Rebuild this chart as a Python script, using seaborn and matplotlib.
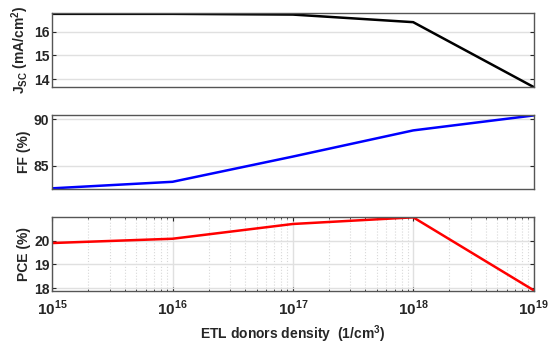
import pandas as pd
import matplotlib.pyplot as plt
import matplotlib.ticker as mticker
import seaborn as sns
import numpy as np

# data
donors = [1e15, 1e16, 1e17, 1e18, 1e19]
jsc = [16.75, 16.75, 16.72, 16.4, 13.67]
ff = [82.6, 83.3, 86.0, 88.8, 90.4]
pce = [19.9, 20.08, 20.7, 20.98, 17.92]

df = pd.DataFrame({'donors': donors, 'jsc': jsc, 'ff': ff, 'pce': pce})

sns.set_style('white')
plt.rcParams['font.family'] = ['Liberation Sans', 'DejaVu Sans']
plt.rcParams['font.weight'] = 'bold'
plt.rcParams['axes.labelweight'] = 'bold'

fig, axes = plt.subplots(3, 1, figsize=(5.5, 3.46), dpi=100, sharex=True)
fig.subplots_adjust(left=0.095, right=0.97, top=0.962, bottom=0.16, hspace=0.38)

panels = [
    ('jsc', 'black', r'J$_{\mathregular{SC}}$ (mA/cm$^{\mathregular{2}}$)', (13.67, 16.78), [14, 15, 16]),
    ('ff', 'blue', 'FF (%)', (82.55, 90.45), [85, 90]),
    ('pce', 'red', 'PCE (%)', (17.9, 21.0), [18, 19, 20]),
]

for ax, (col, color, label, ylim, yticks) in zip(axes, panels):
    sns.lineplot(data=df, x='donors', y=col, color=color, linewidth=1.8, ax=ax)
    ax.set_xscale('log')
    ax.set_xlim(1e15, 1e19)
    ax.set_ylim(*ylim)
    ax.set_yticks(yticks)
    ax.set_ylabel(label, fontsize=10, labelpad=2)
    ax.set_xlabel('')
    ax.grid(axis='y', color='#e0e0e0', linewidth=1)
    ax.tick_params(direction='in', left=True, right=True, bottom=True, top=True,
                   length=3, width=0.8, labelsize=10, pad=2, which='major')
    ax.tick_params(which='minor', direction='in', length=1.5, bottom=True, top=True)
    for s in ax.spines.values():
        s.set_color('#555555')
        s.set_linewidth(1)
    for t in ax.get_yticklabels():
        t.set_fontweight('bold')

axes[2].xaxis.set_minor_locator(mticker.LogLocator(base=10, subs=np.arange(2, 10)))
axes[2].grid(axis='x', which='major', color='#e0e0e0', linewidth=1)
axes[2].grid(axis='x', which='minor', color='#d8d8d8', linestyle=':', linewidth=0.8)
axes[2].set_xlabel('ETL donors density  (1/cm$^{\\mathregular{3}}$)', fontsize=10, labelpad=4)
axes[2].set_xticks(donors)
axes[2].set_xticklabels(['10$^{\\mathregular{%d}}$' % p for p in range(15, 20)])
for t in axes[2].get_xticklabels():
    t.set_fontweight('bold')
axes[2].tick_params(axis='x', labelsize=11, pad=6)
for ax in axes[:2]:
    ax.tick_params(axis='x', which='both', bottom=False, top=False)

fig.savefig('out.png', dpi=100)
